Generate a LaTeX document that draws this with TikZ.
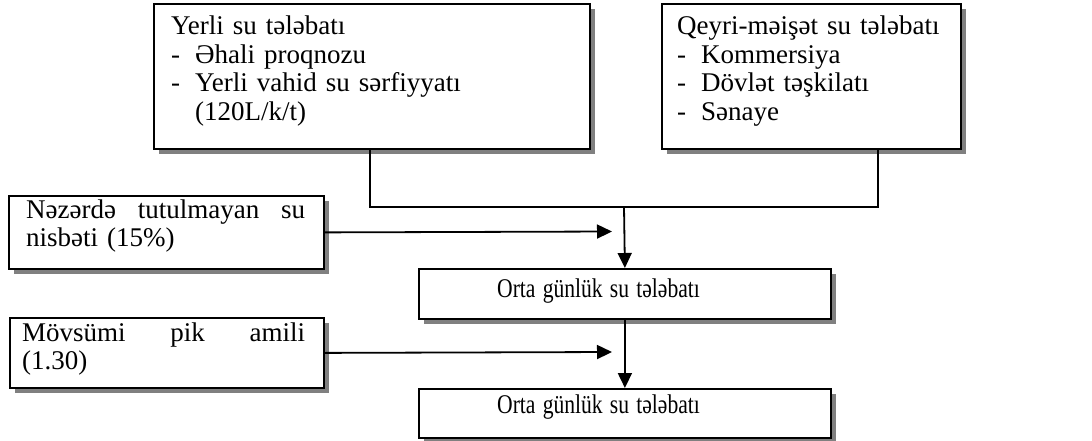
\documentclass[tikz,border=0pt]{standalone}
\usepackage{graphicx}
\usepackage{fontspec}
\setmainfont{Liberation Serif}
\usetikzlibrary{arrows.meta,shadows}

\tikzset{
  box/.style={draw=black, line width=1.8pt, fill=white, rectangle, inner sep=0pt,
    anchor=north west,
    drop shadow={shadow xshift=5pt, shadow yshift=-5pt, fill=black!50, opacity=1}},
  txt/.style={inner sep=0pt, anchor=base west, align=left, text width=400pt,
    font=\fontsize{27}{28.5}\selectfont},
  link/.style={line width=1.8pt},
  arr/.style={link, -{Triangle[length=15pt,width=14pt]}},
}
\newcommand{\itemdash}{\makebox[24pt][l]{-}}
\newcommand{\narrowtext}[1]{\scalebox{0.80}[1]{#1}}

\begin{document}
\begin{tikzpicture}[x=1pt, y=-1pt]
  \useasboundingbox (0,0) rectangle (1092,441);

  % demand source boxes
  \node[box, minimum width=436pt, minimum height=145pt] (yerli) at (153,3) {};
  \node[txt] (yerlitxt) at (171,35) {Yerli su tələbatı\\
    \itemdash Əhali proqnozu\\
    \itemdash Yerli vahid su sərfiyyatı\\
    \hspace*{24pt}(120L/k/t)};

  \node[box, minimum width=299pt, minimum height=145pt] (qeyri) at (661,3) {};
  \node[txt] (qeyritxt) at (677,35) {Qeyri-məişət su tələbatı\\
    \itemdash Kommersiya\\
    \itemdash Dövlət təşkilatı\\
    \itemdash Sənaye};

  % factor boxes on the left
  \node[box, minimum width=315pt, minimum height=73pt] (nezerde) at (8,195) {};
  \node[txt] (nezerdetxt) at (26,218)
    {\makebox[279pt][l]{Nəzərdə\hfill tutulmayan\hfill su}\\nisbəti (15\%)};

  \node[box, minimum width=314pt, minimum height=70pt] (movsumi) at (9,317) {};
  \node[txt] (movsumitxt) at (22,341)
    {\makebox[283pt][l]{Mövsümi\hfill pik\hfill amili}\\(1.30)};

  % result boxes
  \node[box, minimum width=412pt, minimum height=50pt] (orta1) at (418,268) {};
  \node[txt] (orta1txt) at (497,297) {\narrowtext{Orta günlük su tələbatı}};

  \node[box, minimum width=412pt, minimum height=49pt] (orta2) at (418,388) {};
  \node[txt] (orta2txt) at (497,413) {\narrowtext{Orta günlük su tələbatı}};

  % connectors
  \coordinate (join) at (624,207);
  \coordinate (tip1) at (612,231.5);
  \coordinate (tip2) at (612,352);
  \draw[link] ([xshift=217pt]yerli.south west) |- (join)
    -| ([xshift=217pt]qeyri.south west);
  \draw[arr] (join) -- (orta1.north);
  \draw[arr] (nezerde.east) -- (tip1);
  \draw[arr] (orta1.south) -- (orta2.north);
  \draw[arr] (movsumi.east) -- (tip2);
\end{tikzpicture}
\end{document}
